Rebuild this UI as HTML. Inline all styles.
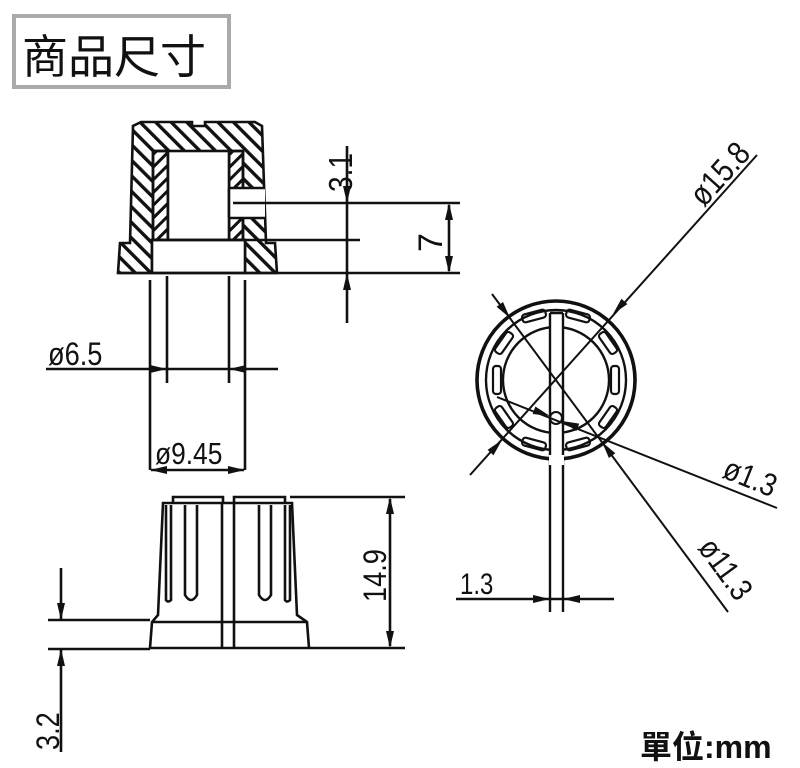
<!DOCTYPE html>
<html><head><meta charset="utf-8"><style>
html,body{margin:0;padding:0;background:#fff}
svg{display:block}
text{font-family:"Liberation Sans","Noto Sans CJK TC",sans-serif;fill:#111}
</style></head><body>
<svg id="s" width="800" height="768" viewBox="0 0 800 768" xmlns="http://www.w3.org/2000/svg">
<defs>
<pattern id="h1" width="11" height="11" patternUnits="userSpaceOnUse" patternTransform="rotate(-45)">
<rect x="0" y="0" width="3.4" height="11" fill="#111"/></pattern>
<pattern id="h2" width="9" height="9" patternUnits="userSpaceOnUse" patternTransform="rotate(45)">
<rect x="0" y="0" width="3" height="9" fill="#111"/></pattern>
</defs>
<rect x="14" y="16" width="215" height="71" fill="#fff" stroke="#aaa" stroke-width="4"/>
<text x="22" y="73" font-size="46">商品尺寸</text>

<g stroke="#111" stroke-width="2.6" fill="none">
<path d="M141,122 L192,122 L192,126 L205,126 L205,122 L255,122 L262,126 L266,243 L275,243 L277,273 L245,273 L245,240 L152,240 L152,273 L118,273 L120,243 L130,243 L133,126 Z" fill="url(#h1)"/>
<rect x="153" y="151" width="15" height="89" fill="#fff"/>
<rect x="153" y="151" width="15" height="89" fill="url(#h2)"/>
<rect x="229" y="151" width="14" height="89" fill="#fff"/>
<rect x="229" y="151" width="14" height="89" fill="url(#h2)"/>
<rect x="168" y="151" width="61" height="89" fill="#fff"/>
<rect x="152" y="240" width="93" height="33" fill="#fff"/>
<rect x="229" y="188" width="36" height="30" fill="#fff" stroke="none"/>
<path d="M229,188 L265,188 M229,218 L265,218 M229,188 L229,218"/>
<path d="M233,203 L460,203 M152,240 L360,240 M118,273 L460,273"/>
<path d="M347,146 L347,323"/>
<path d="M449,205 L449,271"/>
<path d="M150,280 L150,470 M245,280 L245,470 M167,276 L167,383 M229,276 L229,383"/>
<path d="M46,369 L278,369"/>
<path d="M151,470 L244,470"/>

<path d="M173,503 L173,497 L223,497 L223,503 M234,503 L234,497 L285,497 L285,503"/>
<path d="M163,503 L292,503 L297,615 L307,622 L309,648 L150,648 L152,622 L158,615 Z" fill="#fff"/>
<path d="M152,622 L307,622 M222,503 L222,648 M234,503 L234,648"/>
<path d="M166,505 L166,600 Q168,603 171,600 L171,505"/>
<path d="M185,505 L185,595 Q191,605 197,595 L197,505"/>
<path d="M259,505 L259,595 Q265,605 271,595 L271,505"/>
<path d="M285,505 L285,600 Q287,603 290,600 L290,505"/>
<path d="M290,497 L405,497 M310,648 L405,648"/>
<path d="M390,499 L390,646"/>
<path d="M48,620 L150,620 M48,649 L150,649"/>
<path d="M61,568 L61,620 M61,649 L61,752"/>

<circle cx="556" cy="380" r="79" stroke-width="3.6"/>
<circle cx="556" cy="380" r="70" stroke-width="2.4"/>
<circle cx="556" cy="380" r="53" stroke-width="2.4"/>
<g stroke-width="2.2">
<rect x="493" y="366" width="8" height="28" rx="3"/>
<rect x="611" y="366" width="8" height="28" rx="3"/>
<rect x="500" y="331" width="8" height="24" rx="3" transform="rotate(35 504 343)"/>
<rect x="604" y="331" width="8" height="24" rx="3" transform="rotate(-35 608 343)"/>
<rect x="500" y="405" width="8" height="24" rx="3" transform="rotate(-35 504 417)"/>
<rect x="604" y="405" width="8" height="24" rx="3" transform="rotate(35 608 417)"/>
<rect x="522" y="312" width="24" height="8" rx="3" transform="rotate(-15 534 316)"/>
<rect x="566" y="312" width="24" height="8" rx="3" transform="rotate(15 578 316)"/>
<rect x="522" y="440" width="24" height="8" rx="3" transform="rotate(15 534 444)"/>
<rect x="566" y="440" width="24" height="8" rx="3" transform="rotate(-15 578 444)"/>
</g>
<rect x="549" y="313" width="15" height="150" fill="#fff" stroke="none"/>
<path d="M550,313 L550,612 M563,313 L563,612 M550,313 L563,313" stroke-width="2.4"/>
<rect x="549" y="455" width="15" height="10" fill="#fff" stroke="none"/>
<circle cx="556" cy="418" r="6" stroke-width="2"/>
<path d="M757,155 L470,475" stroke-width="2"/>
<path d="M492,294 L728,612" stroke-width="2"/>
<path d="M497,397 L777,508" stroke-width="2"/>
<path d="M456,599 L614,599"/>
</g>
<g id="arr" fill="#111"></g>

<text transform="translate(352,192) rotate(-90) scale(0.85,1)" font-size="33">3.1</text>
<text transform="translate(442,252) rotate(-90)" font-size="34">7</text>
<text transform="translate(48,365) scale(0.85,1)" font-size="32">ø6.5</text>
<text transform="translate(155,464) scale(0.85,1)" font-size="31">ø9.45</text>
<text transform="translate(386,602) rotate(-90) scale(0.85,1)" font-size="32">14.9</text>
<text transform="translate(59,750) rotate(-90) scale(0.85,1)" font-size="32">3.2</text>
<text transform="translate(460,594) scale(0.8,1)" font-size="30">1.3</text>
<text transform="translate(704,208) rotate(-48) scale(0.85,1)" font-size="33">ø15.8</text>
<text transform="translate(721,477) rotate(22) scale(0.85,1)" font-size="32">ø1.3</text>
<text transform="translate(697,548) rotate(54) scale(0.85,1)" font-size="32">ø11.3</text>
<text x="640" y="758" font-size="32" font-weight="bold">單位:mm</text>
<script>
(function(){
var g=document.getElementById('arr');
function A(fx,fy,tx,ty){var dx=tx-fx,dy=ty-fy,l=Math.hypot(dx,dy),ux=dx/l,uy=dy/l,L=17,W=4;
var bx=tx-ux*L,by=ty-uy*L;
var p=document.createElementNS('http://www.w3.org/2000/svg','polygon');
p.setAttribute('points',tx+','+ty+' '+(bx-uy*W)+','+(by+ux*W)+' '+(bx+uy*W)+','+(by-ux*W));g.appendChild(p);}
A(347,150,347,203);A(347,320,347,273);
A(449,238,449,203);A(449,238,449,273);
A(46,369,167,369);A(278,369,229,369);
A(198,470,150,470);A(198,470,245,470);
A(390,572,390,497);A(390,572,390,648);
A(61,570,61,620);A(61,750,61,649);
A(757,155,613,314);A(470,475,502,440);
A(492,294,510,318);A(728,612,602,442);
A(497,397,550,416);A(777,508,562,421);
A(456,599,550,599);A(614,599,563,599);
})();
</script>
</svg>
</body></html>
